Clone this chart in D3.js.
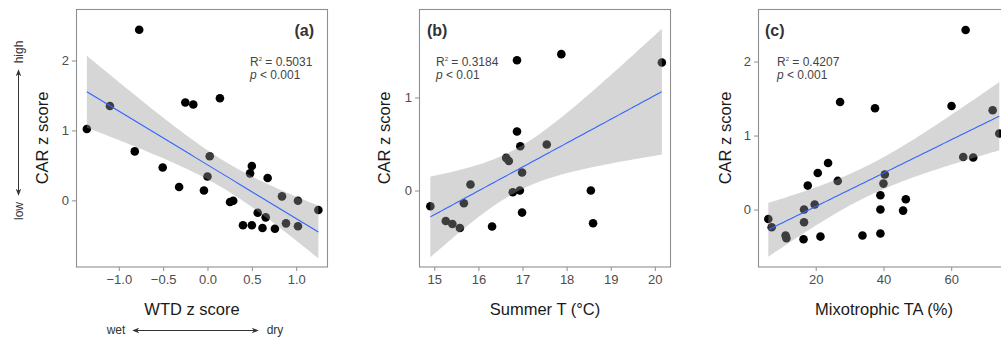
<!DOCTYPE html>
<html>
<head>
<meta charset="utf-8">
<script src="https://cdn.jsdelivr.net/npm/d3@7"></script>
<style>
  body { margin: 0; background: #fff; }
  svg { display: block; font-family: "Liberation Sans", Arial, sans-serif; }
</style>
</head>
<body>
<svg id="chart" width="1001" height="341"></svg>
<script>
// panel (a): WTD z score vs CAR z score
const wtdX = [-0.77, -1.36, -1.10, -0.82, -0.505, -0.32, -0.25, -0.16, -0.04, 0.025, 0.0, 0.14,
  0.254, 0.29, 0.40, 0.50, 0.50, 0.48, 0.566, 0.62, 0.656, 0.678, 0.76, 0.84, 0.885, 1.02, 1.02, 1.25];
const wtdY = [2.44, 1.02, 1.35, 0.70, 0.47, 0.19, 1.40, 1.37, 0.14, 0.63, 0.34, 1.46,
  -0.024, -0.005, -0.357, -0.357, 0.49, 0.386, -0.177, -0.396, -0.243, 0.319, -0.405, 0.057, -0.329, -0.005, -0.371, -0.139];

// panel (b): summer temperature
const tempX = [14.91, 15.26, 15.41, 15.58, 15.67, 15.82, 16.31, 16.63, 16.69, 16.78, 16.875,
  16.875, 16.94, 16.95, 16.99, 16.99, 17.55, 17.88, 18.55, 18.60, 20.16];
const tempY = [-0.169, -0.327, -0.359, -0.402, -0.137, 0.065, -0.387, 0.351, 0.318, -0.018, 1.401,
  0.634, 0.0, 0.476, 0.194, -0.237, 0.495, 1.466, 0.0, -0.352, 1.376];

// panel (c): mixotrophic testate amoebae
const mixoX = [6.0, 7.0, 11.1, 11.35, 16.4, 16.55, 16.55, 17.65, 19.7, 20.6, 21.4, 23.65, 26.5, 27.2,
  33.8, 37.5, 39.1, 39.1, 39.1, 40.0, 40.4, 45.8, 46.6, 60.1, 63.55, 64.26, 66.5, 72.24, 74.2];
const mixoY = [-0.127, -0.239, -0.351, -0.388, -0.401, 0.0, -0.171, 0.324, 0.068, 0.495, -0.365, 0.630, 0.387, 1.454,
  -0.351, 1.369, 0.193, 0.0, -0.324, 0.351, 0.473, -0.014, 0.139, 1.40, 0.711, 2.427, 0.703, 1.342, 1.027];

const xTicksA = [-1.0, -0.5, 0.0, 0.5, 1.0];
const xTicksB = [15, 16, 17, 18, 19, 20];
const xTicksC = [20, 40, 60];
const yTicksA = [0, 1, 2];
const yTicksB = [0, 1];
const yTicksC = [0, 1, 2];

const panels = [
  { id: "(a)", xs: wtdX, ys: wtdY, xt: xTicksA, yt: yTicksA, fmt: d3.format(".1f"),
    left: 76, right: 328, xDom: [-1.4825, 1.3585], yDom: [-0.953, 2.729],
    xTitle: "WTD z score", xTitleX: 192, yTitleX: 42,
    r2: "0.5031", p: "< 0.001", labelAnchor: "end", labelX: 314, statX: 250 },
  { id: "(b)", xs: tempX, ys: tempY, xt: xTicksB, yt: yTicksB, fmt: d3.format("d"),
    left: 419, right: 671, xDom: [14.653, 20.367], yDom: [-0.822, 1.946],
    xTitle: "Summer T (\u00B0C)", xTitleX: 545, yTitleX: 384,
    r2: "0.3184", p: "< 0.01", labelAnchor: "start", labelX: 427, statX: 436 },
  { id: "(c)", xs: mixoX, ys: mixoY, xt: xTicksC, yt: yTicksC, fmt: d3.format("d"),
    left: 758, right: 1012, xDom: [2.96, 77.95], yDom: [-0.776, 2.703],
    xTitle: "Mixotrophic TA (%)", xTitleX: 884, yTitleX: 725,
    r2: "0.4207", p: "< 0.001", labelAnchor: "start", labelX: 765, statX: 777 }
];

const plotTop = 9.5, plotBottom = 267;
const svg = d3.select("#chart");

// approx. 97.5% t quantile
function tq(df) {
  const z = 1.959964;
  return z + (z ** 3 + z) / (4 * df) + (5 * z ** 5 + 16 * z ** 3 + 3 * z) / (96 * df * df);
}

function lmFit(xs, ys) {
  const n = xs.length;
  const mx = d3.mean(xs), my = d3.mean(ys);
  const sxx = d3.sum(xs, x => (x - mx) ** 2);
  const sxy = d3.sum(xs.map((x, i) => (x - mx) * (ys[i] - my)));
  const b = sxy / sxx, a = my - b * mx;
  const sse = d3.sum(xs.map((x, i) => (ys[i] - a - b * x) ** 2));
  const s = Math.sqrt(sse / (n - 2));
  const t = tq(n - 2);
  const [x0, x1] = d3.extent(xs);
  return d3.range(0, 81).map(k => {
    const x = x0 + (x1 - x0) * k / 80;
    const fit = a + b * x;
    const se = s * Math.sqrt(1 / n + (x - mx) ** 2 / sxx);
    return { x, fit, lo: fit - t * se, hi: fit + t * se };
  });
}

panels.forEach((p, i) => {
  const x = d3.scaleLinear().domain(p.xDom).range([p.left, p.right]);
  const y = d3.scaleLinear().domain(p.yDom).range([plotBottom, plotTop]);
  const g = svg.append("g");

  g.append("clipPath").attr("id", "clip" + i)
    .append("rect").attr("x", p.left).attr("y", plotTop).attr("width", p.right - p.left).attr("height", plotBottom - plotTop);

  const pts = p.xs.map((v, k) => ({ x: v, y: p.ys[k] }));
  const body = g.append("g").attr("clip-path", `url(#clip${i})`);

  body.selectAll("circle").data(pts).join("circle")
    .attr("cx", d => x(d.x)).attr("cy", d => y(d.y)).attr("r", 4.3)
    .attr("fill", "#000");

  const band = lmFit(p.xs, p.ys);
  body.append("path").datum(band)
    .attr("d", d3.area().x(d => x(d.x)).y0(d => y(d.lo)).y1(d => y(d.hi)))
    .attr("fill", "#999999").attr("fill-opacity", 0.4);
  body.append("path").datum(band)
    .attr("d", d3.line().x(d => x(d.x)).y(d => y(d.fit)))
    .attr("fill", "none").attr("stroke", "#3366FF").attr("stroke-width", 1.1);

  // frame
  g.append("rect").attr("x", p.left + 0.5).attr("y", plotTop).attr("width", p.right - p.left - 1)
    .attr("height", plotBottom - plotTop).attr("fill", "none").attr("stroke", "#8f8f8f").attr("stroke-width", 1.1);

  // axes
  const xa = g.append("g").attr("transform", `translate(0,${plotBottom})`)
    .call(d3.axisBottom(x).tickValues(p.xt).tickFormat(p.fmt).tickSize(4).tickPadding(4));
  const ya = g.append("g").attr("transform", `translate(${p.left},0)`)
    .call(d3.axisLeft(y).tickValues(p.yt).tickFormat(d3.format("d")).tickSize(4).tickPadding(3));
  [xa, ya].forEach(a => {
    a.select(".domain").remove();
    a.selectAll(".tick line").attr("stroke", "#8f8f8f");
    a.selectAll(".tick text").attr("fill", "#4d4d4d").attr("font-size", 13)
      .attr("font-family", "Liberation Sans, Arial, sans-serif");
  });

  // titles
  g.append("text").attr("x", p.xTitleX).attr("y", 315).attr("text-anchor", "middle")
    .attr("font-size", 16.5).attr("fill", "#1a1a1a").text(p.xTitle);
  g.append("text").attr("transform", `translate(${p.yTitleX + 6},138) rotate(-90)`)
    .attr("text-anchor", "middle").attr("font-size", 16.5).attr("fill", "#1a1a1a").text("CAR z score");

  // panel label + stats
  g.append("text").attr("x", p.labelX).attr("y", 36).attr("text-anchor", p.labelAnchor)
    .attr("font-size", 16).attr("font-weight", "bold").attr("fill", "#333").text(p.id);
  const r = g.append("text").attr("x", p.statX).attr("y", 65.5).attr("font-size", 12).attr("fill", "#444");
  r.append("tspan").text("R");
  r.append("tspan").attr("font-size", 6).attr("dy", -5).text("2");
  r.append("tspan").attr("dy", 5).text(" = " + p.r2);
  const pl = g.append("text").attr("x", p.statX).attr("y", 78.5).attr("font-size", 12).attr("fill", "#444");
  pl.append("tspan").attr("font-style", "italic").text("p");
  pl.append("tspan").text(" " + p.p);
});

// direction arrows of panel (a)
const defs = svg.append("defs");
defs.append("marker").attr("id", "arr").attr("viewBox", "0 0 10 10").attr("refX", 9).attr("refY", 5)
  .attr("markerWidth", 7).attr("markerHeight", 7).attr("orient", "auto-start-reverse")
  .append("path").attr("d", "M0,1 L10,5 L0,9 L3,5 Z").attr("fill", "#333");

svg.append("line").attr("x1", 18.5).attr("x2", 18.5).attr("y1", 70).attr("y2", 195)
  .attr("stroke", "#333").attr("stroke-width", 1)
  .attr("marker-start", "url(#arr)").attr("marker-end", "url(#arr)");
svg.append("text").attr("transform", "translate(23,52) rotate(-90)").attr("text-anchor", "middle")
  .attr("font-size", 12).attr("fill", "#333").text("high");
svg.append("text").attr("transform", "translate(23,211) rotate(-90)").attr("text-anchor", "middle")
  .attr("font-size", 12).attr("fill", "#333").text("low");

svg.append("line").attr("x1", 133).attr("x2", 258).attr("y1", 330.5).attr("y2", 330.5)
  .attr("stroke", "#333").attr("stroke-width", 1)
  .attr("marker-start", "url(#arr)").attr("marker-end", "url(#arr)");
svg.append("text").attr("x", 116).attr("y", 334).attr("text-anchor", "middle")
  .attr("font-size", 12).attr("fill", "#333").text("wet");
svg.append("text").attr("x", 275).attr("y", 334).attr("text-anchor", "middle")
  .attr("font-size", 12).attr("fill", "#333").text("dry");
</script>
</body>
</html>
